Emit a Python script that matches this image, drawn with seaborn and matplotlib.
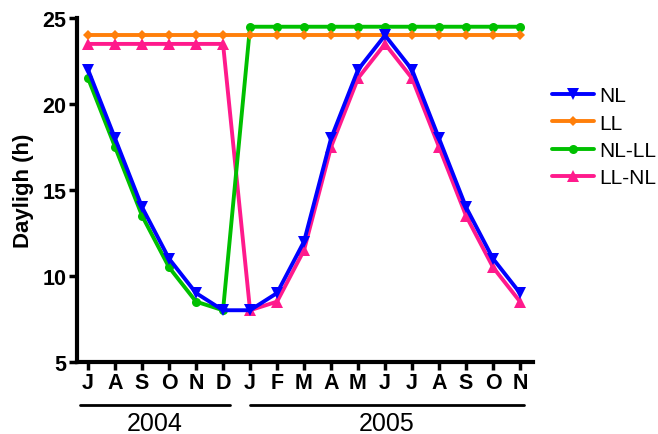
import pandas as pd
import numpy as np
import matplotlib
matplotlib.use('Agg')
import matplotlib.pyplot as plt
import seaborn as sns

# months Jul 2004 .. Nov 2005
months = ['J', 'A', 'S', 'O', 'N', 'D', 'J', 'F', 'M', 'A', 'M', 'J', 'J', 'A', 'S', 'O', 'N']
nl = [22, 18, 14, 11, 9, 8, 8, 9, 12, 18, 22, 24, 22, 18, 14, 11, 9]
ll = [24] * 17
nl_ll = [21.5, 17.5, 13.5, 10.5, 8.5, 8, 24.5, 24.5, 24.5, 24.5, 24.5, 24.5, 24.5, 24.5, 24.5, 24.5, 24.5]
ll_nl = [23.5, 23.5, 23.5, 23.5, 23.5, 23.5, 8, 8.5, 11.5, 17.5, 21.5, 23.5, 21.5, 17.5, 13.5, 10.5, 8.5]
series = ['NL', 'LL', 'NL-LL', 'LL-NL']
years = ['2004', '2005']

colors = {'NL': '#0000FF', 'LL': '#FF7F0A', 'NL-LL': '#00C000', 'LL-NL': '#FF1A8C'}
markers = {'NL': 'v', 'LL': 'D', 'NL-LL': 'o', 'LL-NL': '^'}
msize = {'NL': 8, 'LL': 5.5, 'NL-LL': 6.5, 'LL-NL': 8}

rows = []
for name, vals in zip(series, [nl, ll, nl_ll, ll_nl]):
    for i, v in enumerate(vals):
        rows.append({'idx': i, 'hours': v, 'group': name})
df = pd.DataFrame(rows)

sns.set_style('ticks')
plt.rcParams['font.family'] = ['Liberation Sans', 'DejaVu Sans']
plt.rcParams['text.color'] = 'black'
plt.rcParams['xtick.color'] = 'black'
plt.rcParams['ytick.color'] = 'black'

fig = plt.figure(figsize=(6.58, 4.35), dpi=100)
ax = fig.add_axes([0.117, 0.166, 0.693, 0.790])

# draw in reverse so NL sits on top
for name in series[::-1]:
    sub = df[df['group'] == name]
    sns.lineplot(data=sub, x='idx', y='hours', ax=ax, color=colors[name],
                 marker=markers[name], markersize=msize[name], markeredgewidth=0,
                 linewidth=2.8, label=name, legend=False)

ax.set_xlim(-0.41, 16.48)
ax.set_ylim(5, 25)
ax.set_yticks([5, 10, 15, 20, 25])
ax.set_xticks(range(len(months)))
ax.set_xticklabels(months)
ax.set_xlabel('')
ax.set_ylabel('Dayligh (h)', fontsize=16, fontweight='bold', labelpad=6, color='black')
for lab in ax.get_xticklabels() + ax.get_yticklabels():
    lab.set_fontweight('bold')
    lab.set_fontsize(15.5)
ax.tick_params(axis='both', width=2.5, length=6, color='black', pad=1.5)
for s in ['left', 'bottom']:
    ax.spines[s].set_linewidth(3)
    ax.spines[s].set_color('black')
ax.spines['top'].set_visible(False)
ax.spines['right'].set_visible(False)

# year brackets under the month labels
tr = ax.get_xaxis_transform()
spans = [(-0.3, 5.26), (5.98, 16.15)]
for yr, (x0, x1) in zip(years, spans):
    ax.plot([x0, x1], [-0.125, -0.125], transform=tr, color='black', lw=2, clip_on=False)
    ax.text((x0 + x1) / 2, -0.178, yr, transform=tr, ha='center', va='center', fontsize=18)

handles, labels = ax.get_legend_handles_labels()
order = [labels.index(n) for n in series]
ax.legend([handles[i] for i in order], [labels[i] for i in order],
          loc='center left', bbox_to_anchor=(1.042, 0.655), frameon=False,
          fontsize=15, handlelength=2.0, handletextpad=0.25,
          labelspacing=0.4, borderaxespad=0, borderpad=0)

fig.savefig('out.png', dpi=100)
